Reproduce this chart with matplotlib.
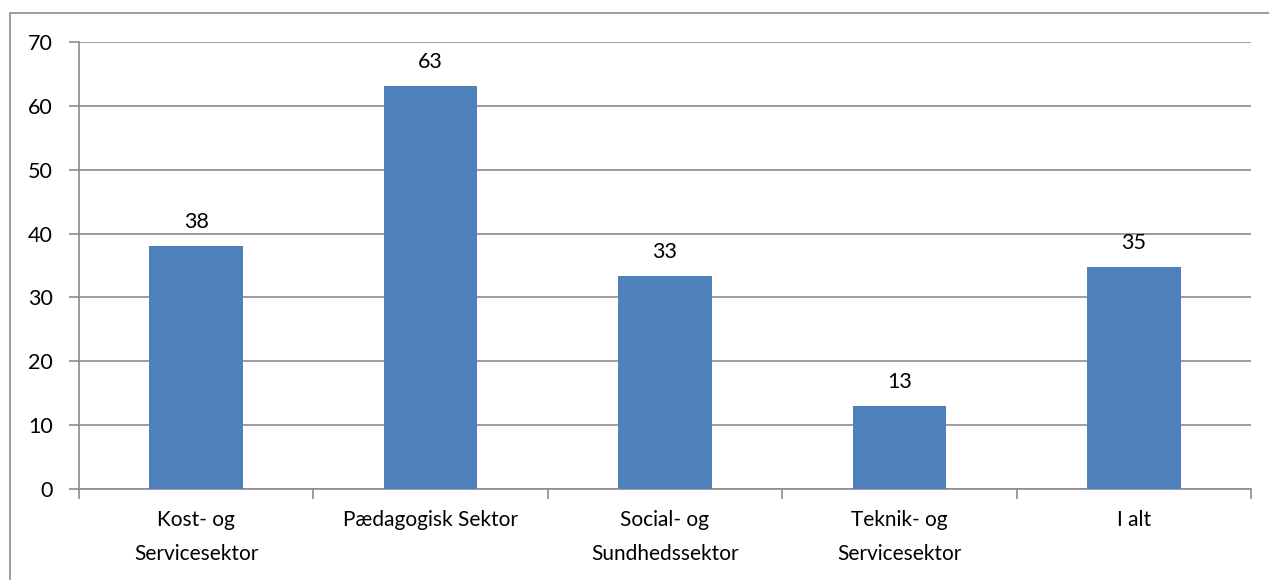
import matplotlib
matplotlib.use("Agg")
import matplotlib.pyplot as plt
from matplotlib.patches import Rectangle
import numpy as np

categories = ["Kost- og\nServicesektor", "Pædagogisk Sektor", "Social- og\nSundhedssektor",
              "Teknik- og\nServicesektor", "I alt"]
values = [38.0, 63.1, 33.4, 13.0, 34.7]
labels = ["38", "63", "33", "13", "35"]
yticks = [0, 10, 20, 30, 40, 50, 60, 70]

plt.rcParams['font.family'] = ['Lato', 'DejaVu Sans']

fig = plt.figure(figsize=(12.69, 5.8), dpi=100)
fig.patches.append(Rectangle((10 / 1269, -0.01), 1.0, (580 - 13) / 580 + 0.01,
                             transform=fig.transFigure, fill=False,
                             edgecolor="#8c8c8c", linewidth=1.2))
ax = fig.add_axes([79 / 1269, (580 - 489) / 580, (1251 - 79) / 1269, (489 - 42) / 580])

x = np.arange(len(categories))
bars = ax.bar(x, values, width=0.4, color="#4F81BD", zorder=3)
for b, lab in zip(bars, labels):
    ax.annotate(lab, (b.get_x() + b.get_width() / 2, b.get_height()),
                xytext=(0, 13), textcoords="offset points",
                ha="center", va="baseline", fontsize=15.5)

ax.set_xlim(-0.5, len(categories) - 0.5)
ax.set_ylim(0, 70)
ax.set_yticks(yticks)
ax.grid(axis="y", color="#8c8c8c", linewidth=1.2, zorder=0)
ax.set_xticks(x)
ax.set_xticklabels(categories, fontsize=15, linespacing=1.9)
ax.set_xticks(np.arange(len(categories) + 1) - 0.5, minor=True)
ax.tick_params(axis="x", which="major", length=0, pad=15)
ax.tick_params(axis="x", which="minor", length=7, width=1.2, color="#8c8c8c")
ax.tick_params(axis="y", length=7, width=1.2, color="#8c8c8c", labelsize=15.5, pad=12)

for s in ["top", "right"]:
    ax.spines[s].set_visible(False)
for s in ["left", "bottom"]:
    ax.spines[s].set_color("#8c8c8c")
    ax.spines[s].set_linewidth(1.2)

fig.savefig("out.png", dpi=100)
